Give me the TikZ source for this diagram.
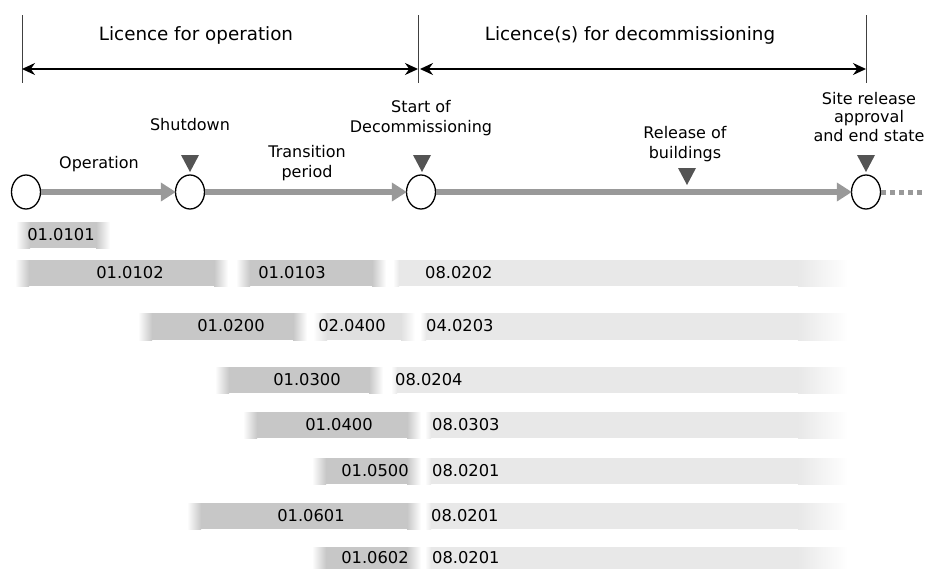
\documentclass[tikz,border=0pt]{standalone}
\usepackage{fontspec}
\setmainfont{DejaVu Sans}
\usetikzlibrary{arrows.meta,shapes.geometric,calc}

\definecolor{barcore}{gray}{0.78}
\definecolor{baredge}{gray}{0.70}
\definecolor{barmid}{gray}{0.88}
\definecolor{barmidedge}{gray}{0.80}
\definecolor{barlight}{gray}{0.91}
\definecolor{flowgray}{gray}{0.60}
\definecolor{markgray}{gray}{0.33}

\tikzset{
  title/.style={font=\fontsize{18.3}{22}\selectfont, anchor=base, inner sep=0pt},
  event/.style={font=\fontsize{16}{20}\selectfont, align=center, anchor=base, inner sep=0pt},
  code/.style={font=\fontsize{16.3}{18}\selectfont, inner sep=0pt},
  stage/.style={ellipse, draw=black, line width=1.3pt, fill=white,
                minimum width=29pt, minimum height=34pt, inner sep=0pt},
  flow/.style={draw=flowgray, line width=6pt,
               -{Triangle[length=15pt,width=18pt]}, shorten >=-1pt},
  span/.style={line width=1.5pt, {Stealth[length=13pt,width=12pt]}-{Stealth[length=13pt,width=12pt]}},
  tick/.style={draw=black!75, line width=0.9pt},
}

% soft-ended bar: core colour, edge colour, x1, x2, y1, y2
\newcommand\stripe[6]{%
  \shade[left color=white, middle color=#2, right color=#1] (#3,#5) rectangle ({#3+14},#6);
  \fill[#1] ({#3+14},#5) rectangle ({#4-14},#6);
  \shade[left color=#1, middle color=#2, right color=white] ({#4-14},#5) rectangle (#4,#6);
}
% long decommissioning bar fading out to the right
\newcommand\decstripe[3]{%
  \shade[left color=white, right color=barlight] (#1,#2) rectangle ({#1+6},#3);
  \fill[barlight] ({#1+6},#2) rectangle (798,#3);
  \shade[left color=barlight, right color=white] (798,#2) rectangle (848,#3);
}
% downward event marker: name, centre x, top y
\newcommand\eventmark[3]{%
  \coordinate (#1) at (#2,#3);
  \fill[markgray] ($(#1)+(-9,0)$) -- ($(#1)+(9,0)$) -- ($(#1)+(0,17)$) -- cycle;
}

\begin{document}
\begin{tikzpicture}[x=1pt,y=-1pt]
\useasboundingbox (0,0) rectangle (926,568);

% ---- licence spans ----
\coordinate (lo) at (22,69);
\coordinate (mid) at (418,69);
\coordinate (hi) at (866,69);
\coordinate (loT) at (22,15);  \coordinate (loB) at (22,83);
\coordinate (midT) at (418,15); \coordinate (midB) at (418,83);
\coordinate (hiT) at (866,15);  \coordinate (hiB) at (866,83);
\draw[tick] (loT) -- (loB);
\draw[tick] (midT) -- (midB);
\draw[tick] (hiT) -- (hiB);
\draw[span] (lo) -- (mid);
\draw[span] ($(mid)+(2,0)$) -- (hi);
\node[title] (lop) at (196,40) {Licence for operation};
\node[title] (ldec) at (630,40) {Licence(s) for decommissioning};

% ---- timeline ----
\node[stage] (s0) at (26,192) {};
\node[stage] (s1) at (190,192) {};
\node[stage] (s2) at (421,192) {};
\node[stage] (s3) at (866,192) {};
\coordinate (tail) at (926,192);
\draw[flow] (s0) -- (s1);
\draw[flow] (s1) -- (s2);
\draw[flow] (s2) -- (s3);
\draw[draw=flowgray, line width=5pt, dash pattern=on 5pt off 4pt] (s3) -- (tail);

\eventmark{mShut}{190}{155}
\eventmark{mStart}{422}{155}
\eventmark{mBuild}{687}{168}
\eventmark{mSite}{866}{155}

% multi-line labels are placed by the baseline of their last line
\node[event] (lOp) at (99,168) {Operation};
\node[event] (lShut) at (190,130) {Shutdown};
\node[event] (lTrans) at (307,177) {Transition\\period};
\node[event] (lStart) at (421,132) {Start of\\Decommissioning};
\node[event] (lBuild) at (685,158) {Release of\\buildings};
\node[event, font=\fontsize{16}{18.5}\selectfont] (lSite) at (869,141) {Site release\\approval\\and end state};

% ---- document bars ----
% row 1
\stripe{barcore}{baredge}{16}{110}{222}{248}
\node[code] (c1a) at (61,235) {01.0101};
% row 2
\stripe{barcore}{baredge}{15}{228}{260}{286}
\stripe{barcore}{baredge}{236}{386}{260}{286}
\decstripe{393}{260}{286}
\node[code] (c2a) at (130,273) {01.0102};
\node[code] (c2b) at (292,273) {01.0103};
\node[code, anchor=west] (c2c) at (425,273) {08.0202};
% row 3
\stripe{barcore}{baredge}{138}{307}{313}{340}
\stripe{barmid}{barmidedge}{313}{415}{313}{340}
\decstripe{420}{313}{340}
\node[code] (c3a) at (231,326) {01.0200};
\node[code] (c3b) at (352,326) {02.0400};
\node[code, anchor=west] (c3c) at (426,326) {04.0203};
% row 4
\stripe{barcore}{baredge}{215}{383}{367}{393}
\decstripe{391}{367}{393}
\node[code] (c4a) at (307,380) {01.0300};
\node[code, anchor=west] (c4b) at (395,380) {08.0204};
% row 5
\stripe{barcore}{baredge}{243}{421}{412}{438}
\decstripe{425}{412}{438}
\node[code] (c5a) at (339,425) {01.0400};
\node[code, anchor=west] (c5b) at (432,425) {08.0303};
% row 6
\stripe{barcore}{baredge}{312}{421}{458}{484}
\decstripe{425}{458}{484}
\node[code] (c6a) at (375,471) {01.0500};
\node[code, anchor=west] (c6b) at (432,471) {08.0201};
% row 7
\stripe{barcore}{baredge}{187}{421}{503}{529}
\decstripe{425}{503}{529}
\node[code] (c7a) at (311,516) {01.0601};
\node[code, anchor=west] (c7b) at (431,516) {08.0201};
% row 8
\stripe{barcore}{baredge}{312}{421}{547}{573}
\decstripe{425}{547}{573}
\node[code] (c8a) at (375,558) {01.0602};
\node[code, anchor=west] (c8b) at (432,558) {08.0201};
\end{tikzpicture}
\end{document}
